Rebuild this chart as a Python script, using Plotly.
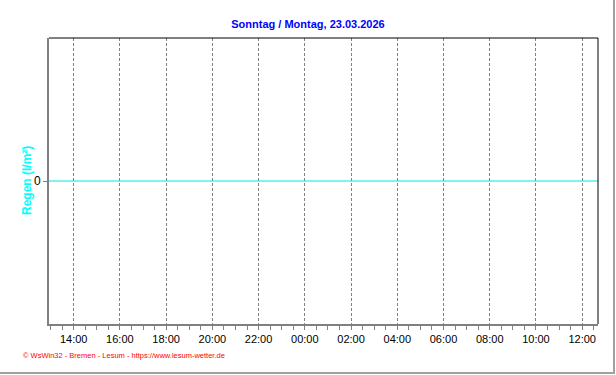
import plotly.graph_objects as go

# Data
times = ["2026-03-22 12:56", "2026-03-22 13:00", "2026-03-22 14:00", "2026-03-22 15:00",
         "2026-03-22 16:00", "2026-03-22 17:00", "2026-03-22 18:00", "2026-03-22 19:00",
         "2026-03-22 20:00", "2026-03-22 21:00", "2026-03-22 22:00", "2026-03-22 23:00",
         "2026-03-23 00:00", "2026-03-23 01:00", "2026-03-23 02:00", "2026-03-23 03:00",
         "2026-03-23 04:00", "2026-03-23 05:00", "2026-03-23 06:00", "2026-03-23 07:00",
         "2026-03-23 08:00", "2026-03-23 09:00", "2026-03-23 10:00", "2026-03-23 11:00",
         "2026-03-23 12:00", "2026-03-23 12:41"]
rain = [0] * len(times)
x_range = ["2026-03-22 12:56", "2026-03-23 12:41"]
y_range = [-1, 1]
y_ticks = [0]
title_text = "Sonntag / Montag, 23.03.2026"
y_title = "Regen (l/m²)"
footer = "© WsWin32 - Bremen - Lesum - https://www.lesum-wetter.de"

FONT = "Liberation Sans, Arial, sans-serif"
W, H = 616, 375
L, R, T, B = 49, 18, 38, 51
pw, ph = W - L - R, H - T - B

fig = go.Figure()
fig.add_trace(go.Scatter(x=times, y=rain, mode="lines",
                         line=dict(color="#00E5E5", width=1), hoverinfo="skip",
                         showlegend=False))

fig.update_layout(
    width=W, height=H,
    margin=dict(l=L, r=R, t=T, b=B),
    paper_bgcolor="white", plot_bgcolor="white",
    font=dict(family=FONT, size=11, color="black"),
    title=dict(text="<b>" + title_text + "</b>", x=308 / W, xanchor="center",
               y=1 - 24 / H, yanchor="middle",
               font=dict(family=FONT, size=11, color="#0000FF")),
    xaxis=dict(
        type="date", range=x_range,
        tick0="2026-03-22 14:00", dtick=2 * 3600 * 1000, tickformat="%H:%M",
        ticks="outside", ticklen=4, tickcolor="#808080", tickwidth=1,
        showgrid=True, gridcolor="#808080", gridwidth=1, griddash="3px,2px",
        showline=True, linecolor="#808080", linewidth=2,
        zeroline=False,
        tickfont=dict(family=FONT, size=11, color="black"),
        minor=dict(dtick=30 * 60 * 1000, tick0="2026-03-22 13:30", ticks="outside",
                   ticklen=4, tickcolor="#808080", tickwidth=1, showgrid=False),
        fixedrange=True,
    ),
    yaxis=dict(
        range=y_range, tickvals=y_ticks, ticktext=["0"],
        ticks="outside", ticklen=4, tickcolor="#808080",
        showgrid=False, zeroline=False,
        showline=True, linecolor="#808080", linewidth=2,
        tickfont=dict(family=FONT, size=12, color="black"),
        fixedrange=True,
    ),
)

# y-axis title
fig.add_annotation(text="<b>" + y_title + "</b>", textangle=-90,
                   xref="paper", yref="paper", x=(27 - L) / pw, y=0.5,
                   xanchor="center", yanchor="middle", showarrow=False,
                   font=dict(family=FONT, size=12, color="#00FFFF"))

# footer
fig.add_annotation(text=footer, xref="paper", yref="paper",
                   x=(21 - L) / pw, y=(H - B - 355) / ph,
                   xanchor="left", yanchor="middle", showarrow=False,
                   font=dict(family=FONT, size=7.5, color="#FF0000"))

# plot frame (top & right black) and outer gray frame
fig.add_shape(type="line", xref="x domain", yref="y domain", x0=0, x1=1, y0=1, y1=1,
              line=dict(color="black", width=1))
fig.add_shape(type="line", xref="x domain", yref="y domain", x0=1, x1=1, y0=0, y1=1,
              line=dict(color="black", width=1))
fig.add_shape(type="line", xref="paper", yref="paper",
              x0=(614 - L) / pw, x1=(614 - L) / pw, y0=(H - B - 373) / ph, y1=(H - B - 0) / ph,
              line=dict(color="#A0A0A0", width=2))
fig.add_shape(type="line", xref="paper", yref="paper",
              x0=(0 - L) / pw, x1=(615 - L) / pw, y0=(H - B - 373) / ph, y1=(H - B - 373) / ph,
              line=dict(color="#A0A0A0", width=2))

fig.write_html("out.html", config={"displayModeBar": False})
